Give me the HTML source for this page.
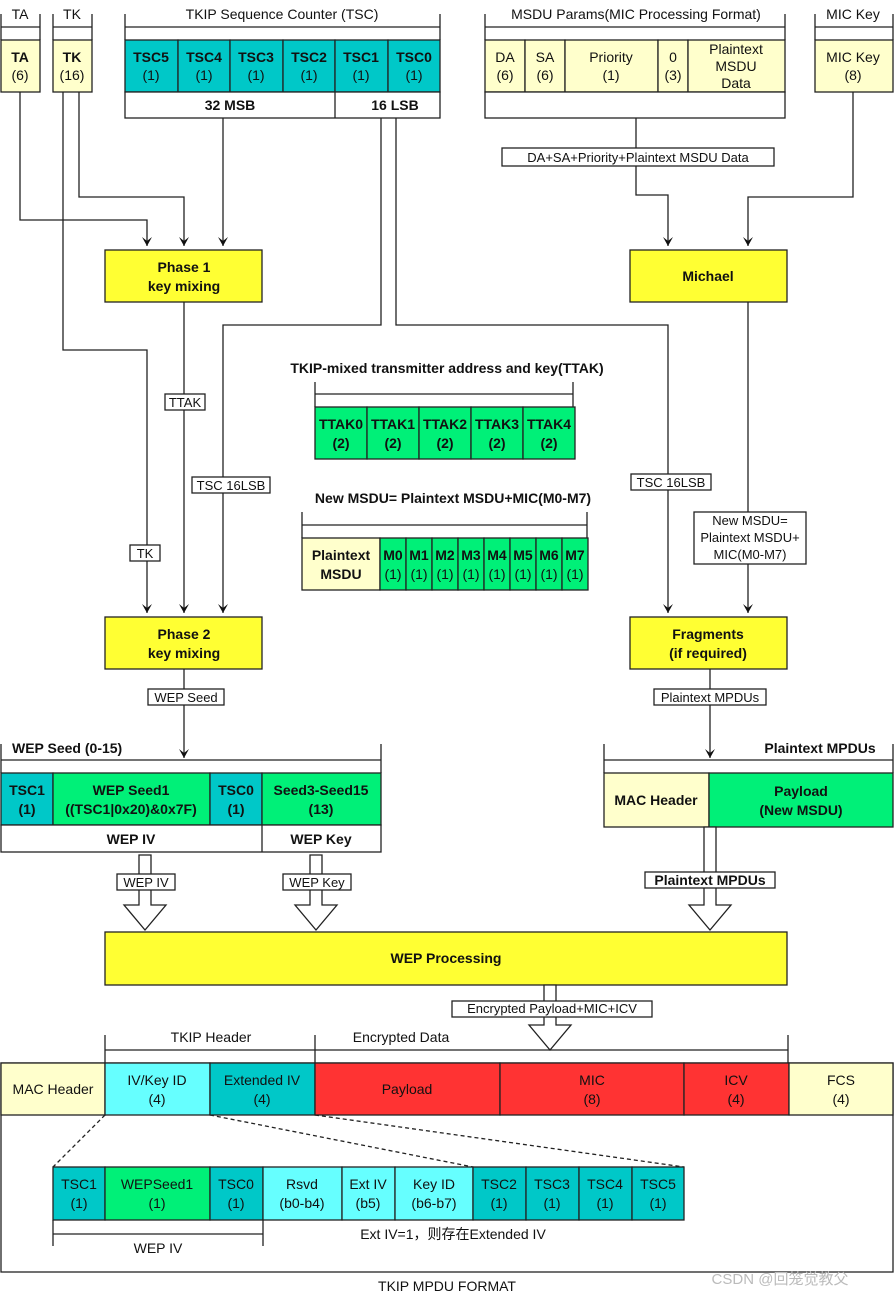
<!DOCTYPE html>
<html><head><meta charset="utf-8"><style>
body{margin:0;background:#fff}
svg{display:block}
text{font-family:"Liberation Sans","Noto Sans CJK SC",sans-serif;font-size:14px;fill:#111;text-anchor:middle}
.b{font-weight:bold}
.s{font-size:13px}
rect{stroke:#222;stroke-width:1.3}
.ln{stroke:#222;stroke-width:1.3;fill:none}
.ly{fill:#FFFFCC}.tl{fill:#00C8C8}.gr{fill:#00F078}.ye{fill:#FFFF33}.rd{fill:#FF3333}.cy{fill:#66FFFF}.wh{fill:#fff}
</style></head><body>
<svg width="895" height="1300" viewBox="0 0 895 1300" xmlns="http://www.w3.org/2000/svg">
<defs><marker id="a" markerWidth="8" markerHeight="8" refX="4" refY="7" orient="auto" markerUnits="userSpaceOnUse"><path d="M0,0 L4,7 L8,0 L4,3 Z" fill="#111" transform="rotate(-90 4 4) rotate(90 4 4)"/></marker>
<marker id="ar" markerWidth="10" markerHeight="10" refX="5" refY="9" orient="0" markerUnits="userSpaceOnUse"><path d="M0,0 L5,9 L10,0 L5,4 Z" fill="#111"/></marker></defs>

<!-- TA / TK -->
<text x="20" y="19">TA</text><text x="72" y="19">TK</text>
<path class="ln" d="M1,14V40M40,14V40M1,27H40M53,14V40M92,14V40M53,27H92"/>
<rect class="ly" x="1" y="40" width="39" height="52"/><text x="20" y="62" class="b">TA</text><text x="20" y="80">(6)</text>
<rect class="ly" x="53" y="40" width="39" height="52"/><text x="72" y="62" class="b">TK</text><text x="72" y="80">(16)</text>

<!-- TSC -->
<text x="282" y="19">TKIP Sequence Counter (TSC)</text>
<path class="ln" d="M125,14V40M440,14V40M125,27H440"/>
<rect class="tl" x="125" y="40" width="53" height="52"/><rect class="tl" x="178" y="40" width="52" height="52"/><rect class="tl" x="230" y="40" width="53" height="52"/><rect class="tl" x="283" y="40" width="52" height="52"/><rect class="tl" x="335" y="40" width="53" height="52"/><rect class="tl" x="388" y="40" width="52" height="52"/>
<text x="151" y="62" class="b">TSC5</text><text x="151" y="80">(1)</text>
<text x="204" y="62" class="b">TSC4</text><text x="204" y="80">(1)</text>
<text x="256" y="62" class="b">TSC3</text><text x="256" y="80">(1)</text>
<text x="309" y="62" class="b">TSC2</text><text x="309" y="80">(1)</text>
<text x="361" y="62" class="b">TSC1</text><text x="361" y="80">(1)</text>
<text x="414" y="62" class="b">TSC0</text><text x="414" y="80">(1)</text>
<rect class="wh" x="125" y="92" width="315" height="26"/><path class="ln" d="M335,92V118"/>
<text x="230" y="110" class="b">32 MSB</text><text x="395" y="110" class="b">16 LSB</text>

<!-- MSDU params -->
<text x="636" y="19">MSDU Params(MIC Processing Format)</text>
<path class="ln" d="M485,14V40M785,14V40M485,27H785"/>
<rect class="ly" x="485" y="40" width="40" height="52"/><rect class="ly" x="525" y="40" width="40" height="52"/><rect class="ly" x="565" y="40" width="93" height="52"/><rect class="ly" x="658" y="40" width="30" height="52"/><rect class="ly" x="688" y="40" width="97" height="52"/>
<text x="505" y="62">DA</text><text x="505" y="80">(6)</text>
<text x="545" y="62">SA</text><text x="545" y="80">(6)</text>
<text x="611" y="62">Priority</text><text x="611" y="80">(1)</text>
<text x="673" y="62">0</text><text x="673" y="80">(3)</text>
<text x="736" y="54">Plaintext</text><text x="736" y="71">MSDU</text><text x="736" y="88">Data</text>
<rect class="wh" x="485" y="92" width="300" height="26"/>

<text x="853" y="19">MIC Key</text>
<path class="ln" d="M815,14V40M893,14V40M815,27H893"/>
<rect class="ly" x="815" y="40" width="78" height="52"/><text x="853" y="62">MIC Key</text><text x="853" y="80">(8)</text>

<!-- connectors top -->
<path class="ln" d="M20,92V220H147V246" marker-end="url(#ar)"/>
<path class="ln" d="M79,92V197H184V246" marker-end="url(#ar)"/>
<path class="ln" d="M223,118V246" marker-end="url(#ar)"/>
<path class="ln" d="M63,92V350H147V613" marker-end="url(#ar)"/>
<path class="ln" d="M184,302V613" marker-end="url(#ar)"/>
<path class="ln" d="M381,118V325H223V613" marker-end="url(#ar)"/>
<path class="ln" d="M396,118V325H668V613" marker-end="url(#ar)"/>
<path class="ln" d="M636,118V195H668V246" marker-end="url(#ar)"/>
<path class="ln" d="M853,92V197H748V246" marker-end="url(#ar)"/>
<path class="ln" d="M748,302V613" marker-end="url(#ar)"/>
<rect x="502" y="148" width="272" height="18" fill="#fff" stroke="none"/>
<text x="638" y="162" class="s">DA+SA+Priority+Plaintext MSDU Data</text>

<rect class="ye" x="105" y="250" width="157" height="52"/><text x="184" y="272" class="b">Phase 1</text><text x="184" y="291" class="b">key mixing</text>
<rect class="ye" x="630" y="250" width="157" height="52"/><text x="708" y="281" class="b">Michael</text>

<rect x="165" y="394" width="40" height="16" fill="#fff" stroke="none"/><text x="185" y="407" class="s">TTAK</text>
<rect x="192" y="477" width="78" height="16" fill="#fff" stroke="none"/><text x="231" y="490" class="s">TSC 16LSB</text>
<rect x="631" y="474" width="80" height="16" fill="#fff" stroke="none"/><text x="671" y="487" class="s">TSC 16LSB</text>
<rect x="130" y="545" width="30" height="16" fill="#fff" stroke="none"/><text x="145" y="558" class="s">TK</text>
<rect x="694" y="512" width="112" height="52" fill="#fff" stroke="none"/>
<text x="750" y="525" class="s">New MSDU=</text><text x="750" y="542" class="s">Plaintext MSDU+</text><text x="750" y="559" class="s">MIC(M0-M7)</text>

<!-- TTAK -->
<text x="447" y="373" class="b">TKIP-mixed transmitter address and key(TTAK)</text>
<path class="ln" d="M315,382V407M573,382V407M315,394H573"/>
<rect class="gr" x="315" y="407" width="52" height="52"/><rect class="gr" x="367" y="407" width="52" height="52"/><rect class="gr" x="419" y="407" width="52" height="52"/><rect class="gr" x="471" y="407" width="52" height="52"/><rect class="gr" x="523" y="407" width="52" height="52"/>
<text x="341" y="429" class="b">TTAK0</text><text x="341" y="448" class="b">(2)</text>
<text x="393" y="429" class="b">TTAK1</text><text x="393" y="448" class="b">(2)</text>
<text x="445" y="429" class="b">TTAK2</text><text x="445" y="448" class="b">(2)</text>
<text x="497" y="429" class="b">TTAK3</text><text x="497" y="448" class="b">(2)</text>
<text x="549" y="429" class="b">TTAK4</text><text x="549" y="448" class="b">(2)</text>

<!-- New MSDU -->
<text x="453" y="503" class="b">New MSDU= Plaintext MSDU+MIC(M0-M7)</text>
<path class="ln" d="M302,512V538M587,512V538M302,525H587"/>
<rect class="ly" x="302" y="538" width="78" height="52"/><text x="341" y="560" class="b">Plaintext</text><text x="341" y="579" class="b">MSDU</text>
<rect class="gr" x="380" y="538" width="26" height="52"/><rect class="gr" x="406" y="538" width="26" height="52"/><rect class="gr" x="432" y="538" width="26" height="52"/><rect class="gr" x="458" y="538" width="26" height="52"/><rect class="gr" x="484" y="538" width="26" height="52"/><rect class="gr" x="510" y="538" width="26" height="52"/><rect class="gr" x="536" y="538" width="26" height="52"/><rect class="gr" x="562" y="538" width="26" height="52"/>
<g class="b"><text x="393" y="560">M0</text><text x="419" y="560">M1</text><text x="445" y="560">M2</text><text x="471" y="560">M3</text><text x="497" y="560">M4</text><text x="523" y="560">M5</text><text x="549" y="560">M6</text><text x="575" y="560">M7</text></g>
<g><text x="393" y="579">(1)</text><text x="419" y="579">(1)</text><text x="445" y="579">(1)</text><text x="471" y="579">(1)</text><text x="497" y="579">(1)</text><text x="523" y="579">(1)</text><text x="549" y="579">(1)</text><text x="575" y="579">(1)</text></g>

<!-- Phase 2, Fragments -->
<rect class="ye" x="105" y="617" width="157" height="52"/><text x="184" y="639" class="b">Phase 2</text><text x="184" y="658" class="b">key mixing</text>
<rect class="ye" x="630" y="617" width="157" height="52"/><text x="708" y="639" class="b">Fragments</text><text x="708" y="658" class="b">(if required)</text>
<path class="ln" d="M184,669V758" marker-end="url(#ar)"/>
<path class="ln" d="M710,669V758" marker-end="url(#ar)"/>
<rect x="148" y="689" width="76" height="16" fill="#fff" stroke="none"/><text x="186" y="702" class="s">WEP Seed</text>
<rect x="654" y="689" width="112" height="16" fill="#fff" stroke="none"/><text x="710" y="702" class="s">Plaintext MPDUs</text>

<!-- WEP seed -->
<text x="12" y="753" class="b" style="text-anchor:start">WEP Seed (0-15)</text>
<path class="ln" d="M1,744V773M381,744V773M1,760H381"/>
<rect class="tl" x="1" y="773" width="52" height="52"/><rect class="gr" x="53" y="773" width="157" height="52"/><rect class="tl" x="210" y="773" width="52" height="52"/><rect class="gr" x="262" y="773" width="119" height="52"/>
<text x="27" y="795" class="b">TSC1</text><text x="27" y="814" class="b">(1)</text>
<text x="131" y="795" class="b">WEP Seed1</text><text x="131" y="814" class="b">((TSC1|0x20)&amp;0x7F)</text>
<text x="236" y="795" class="b">TSC0</text><text x="236" y="814" class="b">(1)</text>
<text x="321" y="795" class="b">Seed3-Seed15</text><text x="321" y="814" class="b">(13)</text>
<rect class="wh" x="1" y="825" width="380" height="27"/><path class="ln" d="M262,825V852"/>
<text x="131" y="844" class="b">WEP IV</text><text x="321" y="844" class="b">WEP Key</text>

<text x="820" y="753" class="b">Plaintext MPDUs</text>
<path class="ln" d="M604,744V773M893,744V773M604,760H893"/>
<rect class="ly" x="604" y="773" width="105" height="54"/><rect class="gr" x="709" y="773" width="184" height="54"/>
<text x="656" y="805" class="b">MAC Header</text>
<text x="801" y="796" class="b">Payload</text><text x="801" y="815" class="b">(New MSDU)</text>

<!-- hollow arrows -->
<path d="M139,855V905H124L145,930L166,905H151V855Z" fill="#fff" stroke="#222" stroke-width="1.3"/>
<path d="M310,855V905H295L316,930L337,905H322V855Z" fill="#fff" stroke="#222" stroke-width="1.3"/>
<path d="M704,827V905H689L710,930L731,905H716V827Z" fill="#fff" stroke="#222" stroke-width="1.3"/>
<rect x="117" y="874" width="58" height="16" fill="#fff" stroke="none"/><text x="146" y="887" class="s">WEP IV</text>
<rect x="283" y="874" width="68" height="16" fill="#fff" stroke="none"/><text x="317" y="887" class="s">WEP Key</text>
<rect x="645" y="872" width="130" height="16" fill="#fff" stroke="none"/><text x="710" y="885" class="b">Plaintext MPDUs</text>

<rect class="ye" x="105" y="932" width="682" height="53"/><text x="446" y="963" class="b">WEP Processing</text>
<path d="M544,985V1025H529L550,1050L571,1025H556V985Z" fill="#fff" stroke="#222" stroke-width="1.3"/>
<rect x="452" y="1001" width="200" height="16" fill="#fff" stroke="none"/><text x="552" y="1013" class="s">Encrypted Payload+MIC+ICV</text>

<!-- bottom -->
<text x="211" y="1042">TKIP Header</text><text x="401" y="1042">Encrypted Data</text>
<path class="ln" d="M105,1035V1063M315,1035V1063M788,1035V1063M105,1050H788"/>
<rect x="1" y="1063" width="892" height="209" fill="#fff"/>
<rect class="ly" x="1" y="1063" width="104" height="52"/><rect class="cy" x="105" y="1063" width="105" height="52"/><rect class="tl" x="210" y="1063" width="105" height="52"/><rect class="rd" x="315" y="1063" width="185" height="52"/><rect class="rd" x="500" y="1063" width="184" height="52"/><rect class="rd" x="684" y="1063" width="105" height="52"/><rect class="ly" x="789" y="1063" width="104" height="52"/>
<text x="53" y="1094">MAC Header</text>
<text x="157" y="1085">IV/Key ID</text><text x="157" y="1104">(4)</text>
<text x="262" y="1085">Extended IV</text><text x="262" y="1104">(4)</text>
<text x="407" y="1094">Payload</text>
<text x="592" y="1085">MIC</text><text x="592" y="1104">(8)</text>
<text x="736" y="1085">ICV</text><text x="736" y="1104">(4)</text>
<text x="841" y="1085">FCS</text><text x="841" y="1104">(4)</text>
<path d="M105,1115L53,1167M210,1115L473,1167M315,1115L684,1167" stroke="#222" stroke-width="1.3" stroke-dasharray="4,3" fill="none"/>
<rect class="tl" x="53" y="1167" width="52" height="53"/><rect class="gr" x="105" y="1167" width="105" height="53"/><rect class="tl" x="210" y="1167" width="53" height="53"/><rect class="cy" x="263" y="1167" width="79" height="53"/><rect class="cy" x="342" y="1167" width="53" height="53"/><rect class="cy" x="395" y="1167" width="78" height="53"/><rect class="tl" x="473" y="1167" width="53" height="53"/><rect class="tl" x="526" y="1167" width="53" height="53"/><rect class="tl" x="579" y="1167" width="53" height="53"/><rect class="tl" x="632" y="1167" width="52" height="53"/>
<text x="79" y="1189">TSC1</text><text x="79" y="1208">(1)</text>
<text x="157" y="1189">WEPSeed1</text><text x="157" y="1208">(1)</text>
<text x="236" y="1189">TSC0</text><text x="236" y="1208">(1)</text>
<text x="302" y="1189">Rsvd</text><text x="302" y="1208">(b0-b4)</text>
<text x="368" y="1189">Ext IV</text><text x="368" y="1208">(b5)</text>
<text x="434" y="1189">Key ID</text><text x="434" y="1208">(b6-b7)</text>
<text x="499" y="1189">TSC2</text><text x="499" y="1208">(1)</text>
<text x="552" y="1189">TSC3</text><text x="552" y="1208">(1)</text>
<text x="605" y="1189">TSC4</text><text x="605" y="1208">(1)</text>
<text x="658" y="1189">TSC5</text><text x="658" y="1208">(1)</text>
<path class="ln" d="M53,1220V1246M263,1220V1246M53,1234H263"/>
<text x="158" y="1253">WEP IV</text>
<text x="453" y="1239">Ext IV=1，则存在Extended IV</text>
<text x="447" y="1291">TKIP MPDU FORMAT</text>
<text x="780" y="1284" style="fill:#bbb;font-size:15px">CSDN @回笼觉教父</text>
</svg>
</body></html>
